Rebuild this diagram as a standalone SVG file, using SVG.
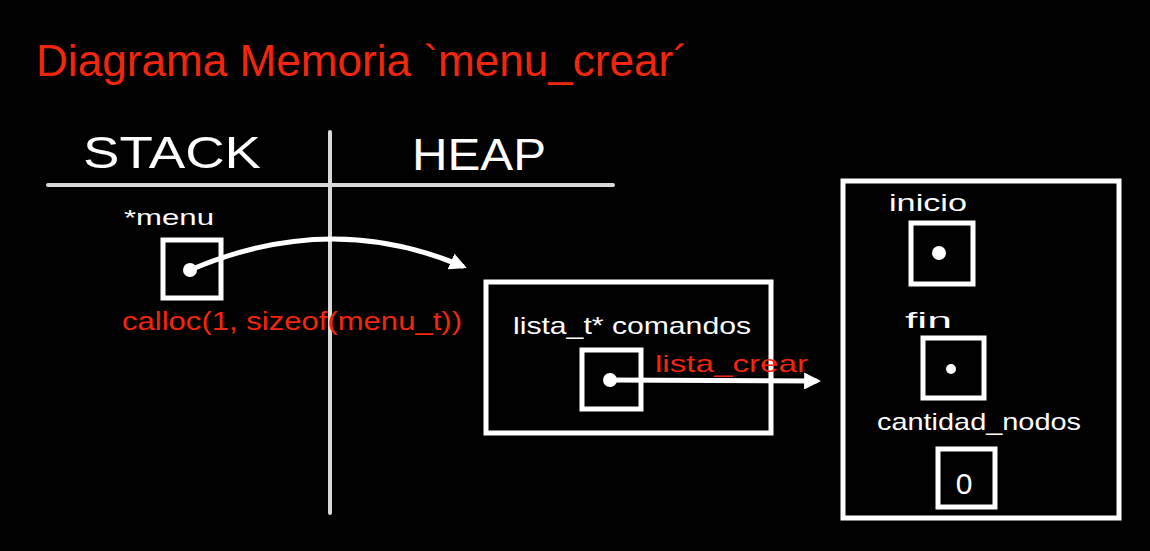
<svg xmlns="http://www.w3.org/2000/svg" width="1150" height="551" viewBox="0 0 1150 551">
<defs>
<style>
.bg{fill:#000}
.box{fill:none;stroke:#fff;stroke-width:5}
.grid{stroke:#d9d9d9;stroke-width:4;stroke-linecap:round;fill:none}
.wt{fill:#fff;font-family:"Liberation Sans",Arial,sans-serif}
.rt{fill:#f2260c;font-family:"Liberation Sans",Arial,sans-serif}
.conn{fill:none;stroke:#fff;stroke-width:5;stroke-linecap:round}
.dot{fill:#fff}
</style>
<marker id="ah" viewBox="0 0 10 10" refX="7" refY="5" markerWidth="3.4" markerHeight="3.4" orient="auto" markerUnits="strokeWidth">
<path d="M0,0 L10,5 L0,10 Z" fill="#fff"/>
</marker>
</defs>
<rect class="bg" x="0" y="0" width="1150" height="551"/>
<g id="title">
<text class="rt" x="36" y="76" font-size="44" textLength="652" lengthAdjust="spacingAndGlyphs">Diagrama Memoria `menu_crear´</text>
</g>
<g id="sections">
<line class="grid" x1="48" y1="185" x2="613" y2="185"/>
<line class="grid" x1="330" y1="132" x2="330" y2="513"/>
<text class="wt" x="83" y="168" font-size="44" textLength="178" lengthAdjust="spacingAndGlyphs">STACK</text>
<text class="wt" x="412" y="170" font-size="44" textLength="134" lengthAdjust="spacingAndGlyphs">HEAP</text>
</g>
<g id="menu">
<text class="wt" x="124" y="225" font-size="22" textLength="90" lengthAdjust="spacingAndGlyphs">*menu</text>
<rect class="box" x="163" y="240" width="58" height="58"/>
<circle class="dot" cx="190" cy="270" r="7"/>
<text class="rt" x="122" y="330" font-size="26" textLength="340" lengthAdjust="spacingAndGlyphs">calloc(1, sizeof(menu_t))</text>
</g>
<g id="lista">
<rect class="box" x="486" y="282" width="285" height="151"/>
<text class="wt" x="513" y="334" font-size="24" textLength="238" lengthAdjust="spacingAndGlyphs">lista_t* comandos</text>
<rect class="box" x="582" y="350" width="59" height="59"/>
<circle class="dot" cx="610" cy="380" r="7"/>
<text class="rt" x="655" y="372" font-size="24" textLength="153" lengthAdjust="spacingAndGlyphs">lista_crear</text>
</g>
<g id="estructura">
<rect class="box" x="843" y="181" width="276" height="337"/>
<text class="wt" x="889" y="211" font-size="24" textLength="78" lengthAdjust="spacingAndGlyphs">inicio</text>
<rect class="box" x="911" y="223" width="62" height="61"/>
<circle class="dot" cx="939" cy="253" r="7"/>
<text class="wt" x="905" y="328" font-size="22" textLength="47" lengthAdjust="spacingAndGlyphs">fin</text>
<rect class="box" x="923" y="338" width="61" height="60"/>
<circle class="dot" cx="951" cy="369" r="5"/>
<text class="wt" x="877" y="430" font-size="24" textLength="204" lengthAdjust="spacingAndGlyphs">cantidad_nodos</text>
<rect class="box" x="938" y="449" width="57" height="58"/>
<text class="wt" x="964" y="494" font-size="30" font-weight="300" text-anchor="middle">0</text>
</g>
<g id="connectors">
<path class="conn" d="M190,270 Q330,210 462,266" marker-end="url(#ah)"/>
<path class="conn" d="M610,380 L816,381" marker-end="url(#ah)"/>
</g>
</svg>
